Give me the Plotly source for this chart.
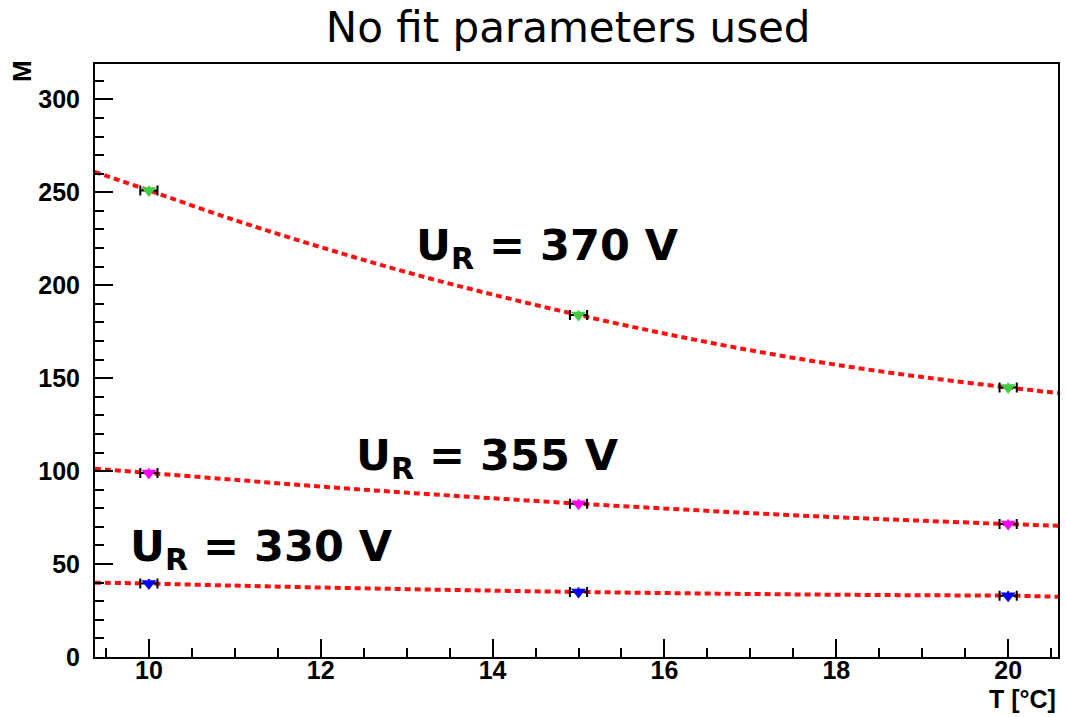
import plotly.graph_objects as go

# Measured multiplication M at three temperatures for three reverse voltages
temps = [10, 15, 20]
temp_err = [0.1, 0.1, 0.1]
m_370 = [251, 184, 145]
m_355 = [99, 82.5, 71.5]
m_330 = [39.5, 35, 33]
m_err_370 = [2.5, 2.5, 2.5]
m_err_355 = [2.5, 2.5, 2.5]
m_err_330 = [2.5, 2.5, 2.5]

# Model prediction (no fit parameters), sampled along T
curve_t = [9.37, 10, 11, 12, 13, 14, 15, 16, 17, 18, 19, 20, 20.58]
curve_370 = [261.0, 251.0, 235.0, 220.5, 207.0, 195.0, 184.0, 174.0, 165.0, 157.2, 150.6, 145.0, 142.0]
curve_355 = [101.3, 99.0, 95.3, 91.7, 88.4, 85.4, 82.5, 79.9, 77.4, 75.2, 73.3, 71.5, 70.6]
curve_330 = [40.0, 39.5, 38.4, 37.4, 36.5, 35.7, 35.0, 34.4, 33.9, 33.5, 33.2, 33.0, 32.4]

series = [
    ("U_R = 370 V", m_370, m_err_370, curve_370, "#44cc44"),
    ("U_R = 355 V", m_355, m_err_355, curve_355, "#ff00ff"),
    ("U_R = 330 V", m_330, m_err_330, curve_330, "#0000ff"),
]

fig = go.Figure()

for name, vals, errs, curve, col in series:
    fig.add_trace(go.Scatter(
        x=curve_t, y=curve, mode="lines", line_shape="spline",
        line=dict(color="#ff1010", width=4, dash="6px,4px"),
        showlegend=False, hoverinfo="skip",
    ))
    fig.add_trace(go.Scatter(
        x=temps, y=vals, mode="markers", name=name,
        marker=dict(symbol="triangle-down", size=13, color=col),
        error_x=dict(type="data", array=temp_err, color="black",
                     thickness=2, width=5),
        error_y=dict(type="data", array=errs, color=col,
                     thickness=2, width=0),
        showlegend=False,
    ))

label_font = dict(family="DejaVu Sans", size=43, color="black", weight="bold")
labels = [
    (13.09, 220, "U<sub>R</sub> = 370 V"),
    (12.39, 107, "U<sub>R</sub> = 355 V"),
    (9.76, 58, "U<sub>R</sub> = 330 V"),
]
for lx, ly, txt in labels:
    fig.add_annotation(x=lx, y=ly, xref="x", yref="y", text=txt,
                       showarrow=False, xanchor="left", yanchor="middle",
                       font=label_font)

axis_font = dict(family="Liberation Sans", size=25, color="black", weight="bold")

fig.add_annotation(x=-0.076, y=1.01, xref="paper", yref="paper", text="M",
                   showarrow=False, textangle=-90, xanchor="center", yanchor="top",
                   font=dict(family="Liberation Sans", size=26, color="black", weight="bold"))
fig.add_annotation(x=1.0, y=-0.097, xref="paper", yref="paper", text="T [°C]",
                   showarrow=False, xanchor="right", yanchor="bottom",
                   font=dict(family="Liberation Sans", size=25, color="black", weight="bold"))

fig.update_layout(
    width=1066, height=717,
    margin=dict(l=95, r=6, t=64, b=60),
    paper_bgcolor="white", plot_bgcolor="white",
    title=dict(text="No fit parameters used", x=0.533, xanchor="center",
               y=0.962, yanchor="middle",
               font=dict(family="DejaVu Sans", size=42, color="black")),
    xaxis=dict(range=[9.373, 20.58], dtick=2, tick0=0,
               showgrid=False, zeroline=False,
               showline=True, linecolor="black", linewidth=2, mirror=True,
               ticks="inside", ticklen=18, tickwidth=2, tickcolor="black",
               tickfont=axis_font, ticklabelstandoff=-10,
               minor=dict(dtick=0.5, ticks="inside", ticklen=9,
                          tickwidth=1.5, tickcolor="black", showgrid=False)),
    yaxis=dict(range=[0, 319], dtick=50, tick0=0,
               showgrid=False, zeroline=False,
               showline=True, linecolor="black", linewidth=2, mirror=True,
               ticks="inside", ticklen=18, tickwidth=2, tickcolor="black",
               tickfont=axis_font, ticklabelstandoff=8,
               minor=dict(dtick=10, ticks="inside", ticklen=9,
                          tickwidth=1.5, tickcolor="black", showgrid=False)),
)

fig.write_html("out.html")
